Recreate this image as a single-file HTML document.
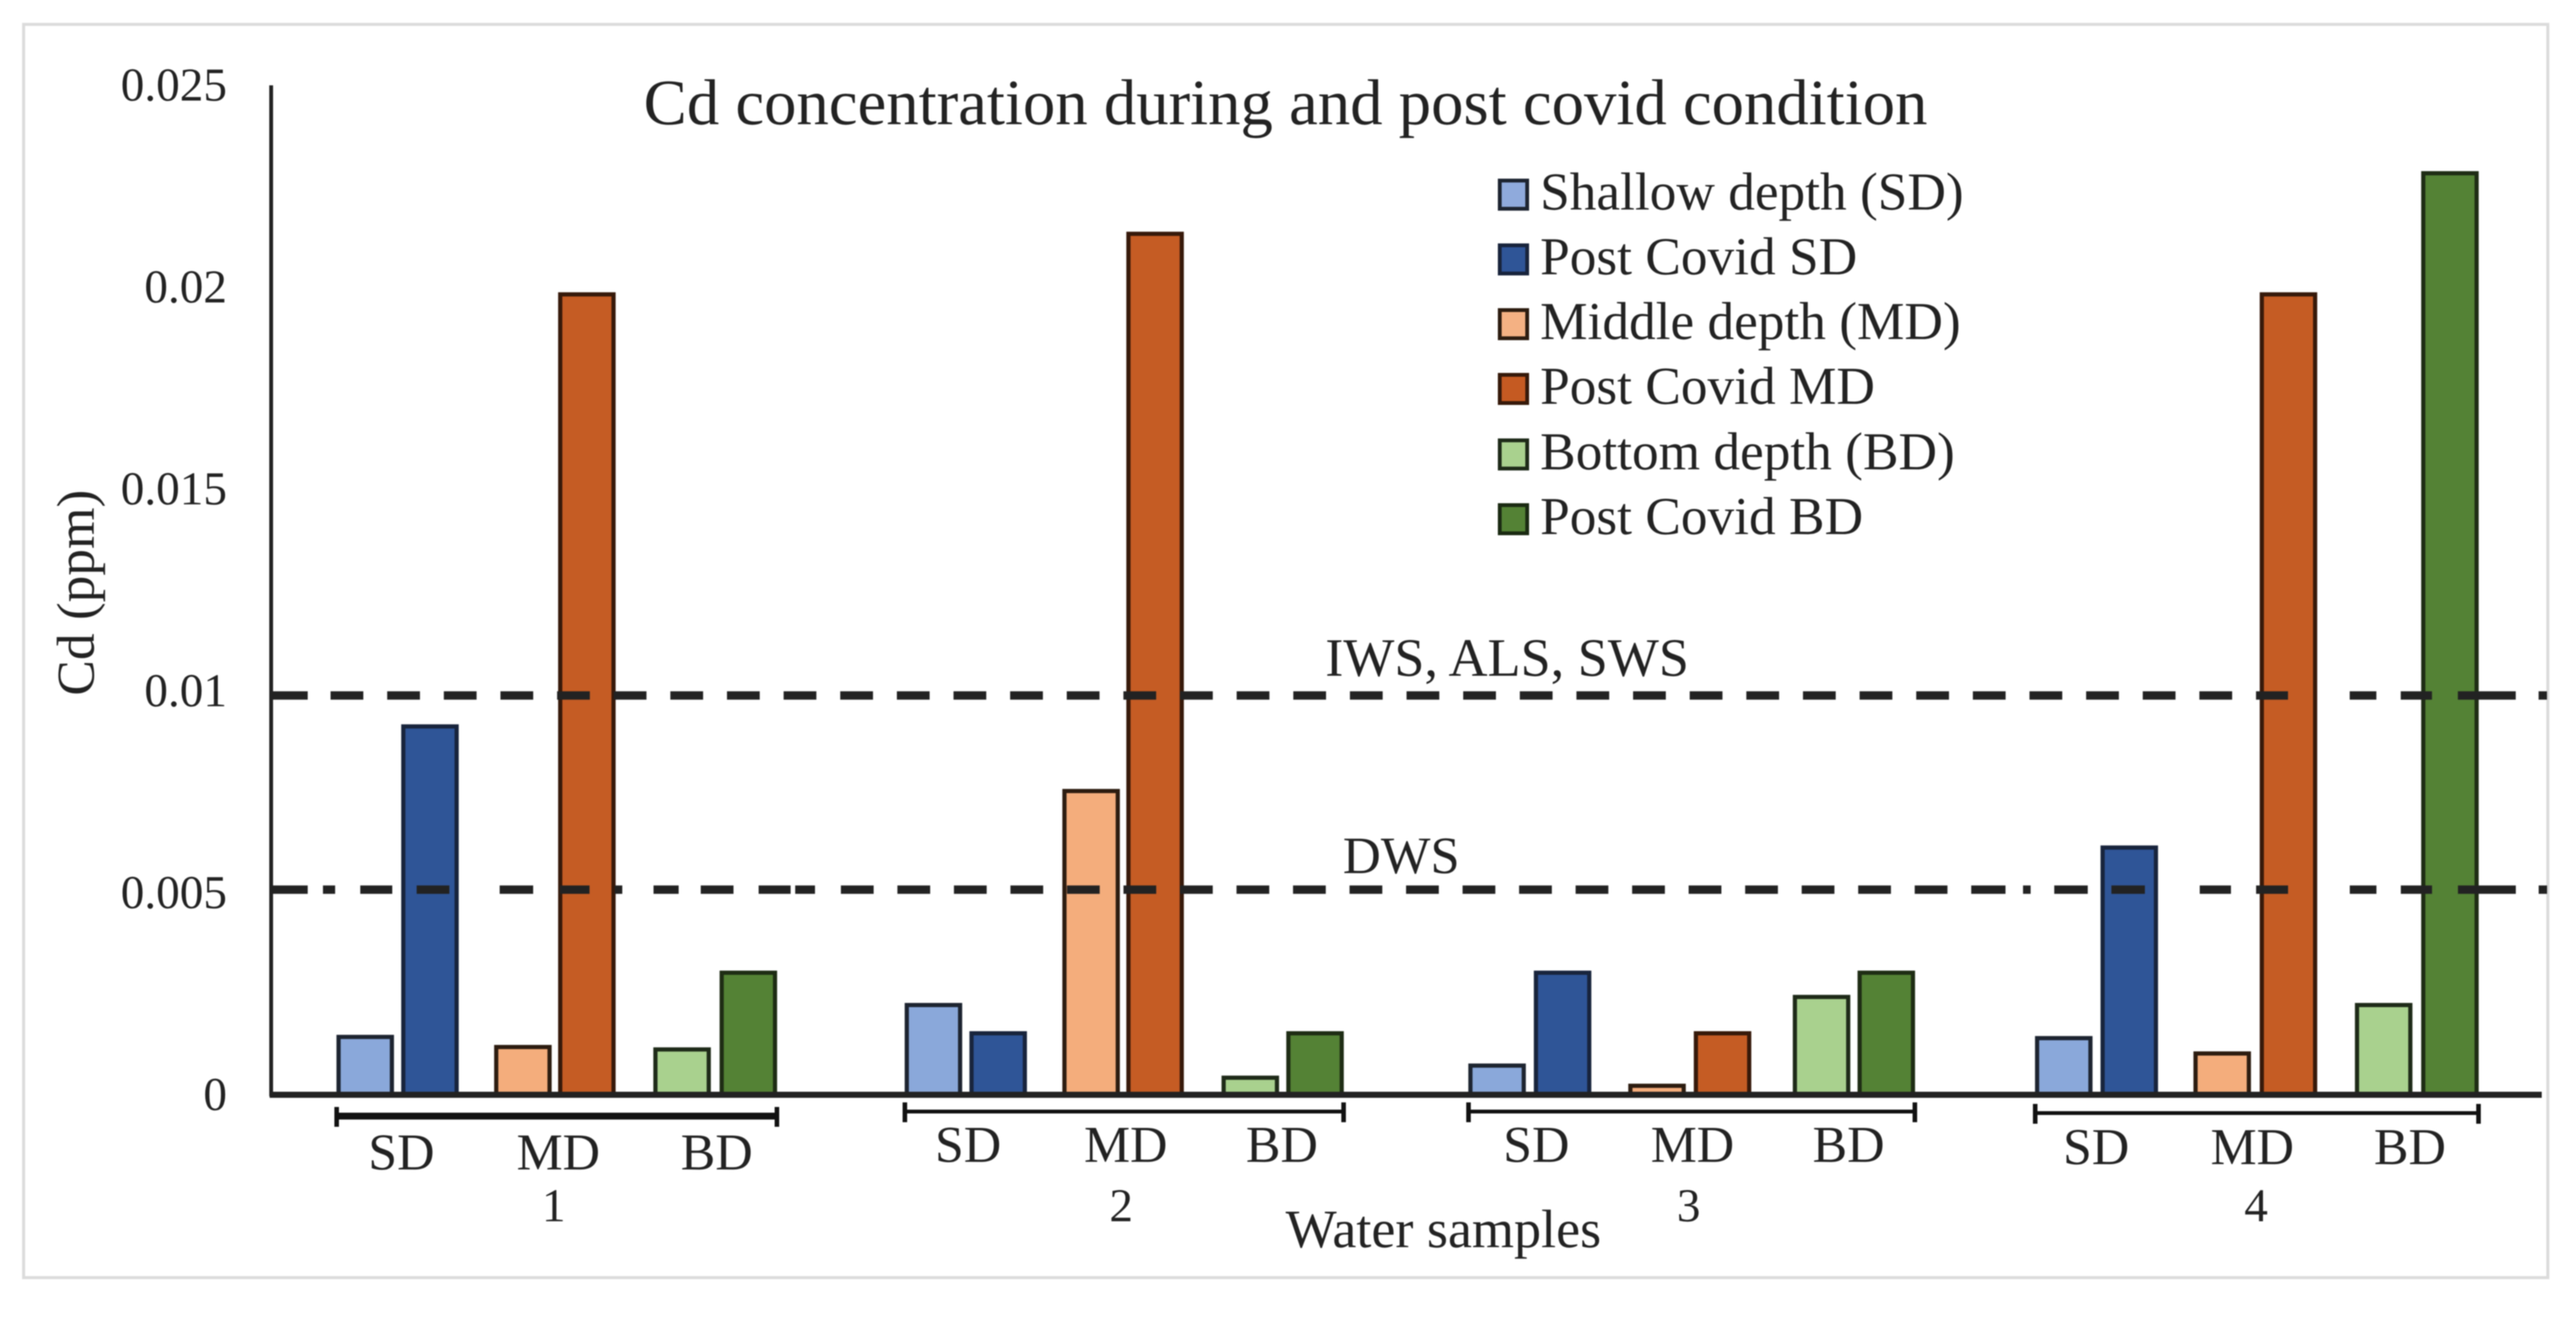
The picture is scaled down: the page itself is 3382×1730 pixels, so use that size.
<!DOCTYPE html>
<html lang="en">
<head>
<meta charset="utf-8">
<title>Cd concentration during and post covid condition</title>
<style>
  html, body { margin: 0; padding: 0; background: #ffffff; }
  body { width: 3382px; height: 1730px; overflow: hidden; }
  svg { display: block; }
  text { font-family: "Liberation Serif", serif; fill: #222222; text-rendering: geometricPrecision; }
</style>
</head>
<body>
<svg id="chart" xmlns="http://www.w3.org/2000/svg" width="3382" height="1730" viewBox="0 0 3382 1730">
  <rect x="0" y="0" width="3382" height="1730" fill="#ffffff"/>
  <g id="plot" style="filter: blur(0.9px)">
    <rect x="31" y="32" width="3314" height="1645" fill="#ffffff" stroke="#dcdcdc" stroke-width="4"/>
    <g id="bars"></g>
    <g id="thresholds"></g>
    <line x1="356" y1="112" x2="356" y2="1439" stroke="#222222" stroke-width="5"/>
    <line x1="354" y1="1437" x2="3337" y2="1437" stroke="#222222" stroke-width="8"/>
    <g id="brackets"></g>
    <g id="yticks"></g>
    <g id="xlabels"></g>
    <text x="845" y="163" font-size="85">Cd concentration during and post covid condition</text>
    <text transform="translate(123 778) rotate(-90)" text-anchor="middle" font-size="70">Cd (ppm)</text>
    <text x="1895" y="1637" text-anchor="middle" font-size="71">Water samples</text>
    <g>
      <g>
        <rect x="1969" y="237" width="36" height="37" fill="#8faadc" stroke="#1d2430" stroke-width="5"/>
        <text x="2022" y="275" font-size="70">Shallow depth (SD)</text>
      </g>
      <g>
        <rect x="1969" y="322" width="36" height="37" fill="#2f5597" stroke="#18243c" stroke-width="5"/>
        <text x="2022" y="360" font-size="70">Post Covid SD</text>
      </g>
      <g>
        <rect x="1969" y="407" width="36" height="37" fill="#f4b183" stroke="#2c1c10" stroke-width="5"/>
        <text x="2022" y="445" font-size="70">Middle depth (MD)</text>
      </g>
      <g>
        <rect x="1969" y="492" width="36" height="37" fill="#c55a22" stroke="#36190a" stroke-width="5"/>
        <text x="2022" y="530" font-size="70">Post Covid MD</text>
      </g>
      <g>
        <rect x="1969" y="578" width="36" height="37" fill="#a9d18e" stroke="#1e2a18" stroke-width="5"/>
        <text x="2022" y="616" font-size="70">Bottom depth (BD)</text>
      </g>
      <g>
        <rect x="1969" y="663" width="36" height="37" fill="#548235" stroke="#1a2a12" stroke-width="5"/>
        <text x="2022" y="701" font-size="70">Post Covid BD</text>
      </g>
    </g>
  </g>
</svg>
<script>
// ---- chart data ----
const sampleLabels = ["1", "2", "3", "4"];
const depthLabels = ["SD", "MD", "BD"];
const yTickValues = [0, 0.005, 0.01, 0.015, 0.02, 0.025];
const yTickLabels = ["0", "0.005", "0.01", "0.015", "0.02", "0.025"];
const shallowDepth = [0.00148, 0.00227, 0.00077, 0.00145];
const postCovidSD = [0.00917, 0.00157, 0.00307, 0.00617];
const middleDepth = [0.00123, 0.00757, 0.00027, 0.00107];
const postCovidMD = [0.01987, 0.02137, 0.00157, 0.01987];
const bottomDepth = [0.00117, 0.00047, 0.00247, 0.00227];
const postCovidBD = [0.00307, 0.00157, 0.00307, 0.02287];
const thresholdValues = [0.00989, 0.00508];
const thresholdLabels = ["IWS, ALS, SWS", "DWS"];

const seriesValues = [shallowDepth, postCovidSD, middleDepth, postCovidMD, bottomDepth, postCovidBD];

// ---- styling by series ----
const seriesKeys = ["shallow-sd", "post-covid-sd", "middle-md", "post-covid-md", "bottom-bd", "post-covid-bd"];
const seriesFill = ["#8aa8da", "#2f5597", "#f4ad7c", "#c55c24", "#a9d18e", "#548235"];
const seriesStroke = ["#1d2430", "#18243c", "#2c1c10", "#36190a", "#1e2a18", "#1e2c14"];

// ---- axis functions ----
const NS = "http://www.w3.org/2000/svg";
const Y_ZERO = 1437;
const Y_TOP = 112;
const Y_MAX = 0.025;
const BAR_WIDTH = 75;

function yScale(v) {
  return Y_ZERO - (v / Y_MAX) * (Y_ZERO - Y_TOP);
}
// Categorical x axis: measured band layout per sample / series slot.
function xBar(g, s) {
  const left = [442, 1188, 1928, 2672];
  const slots = [
    [0, 85, 207, 291, 416, 503],
    [0, 85, 207, 291, 416, 501],
    [0, 86, 210, 296, 426, 511],
    [0, 86, 208, 295, 420, 507]
  ];
  return left[g] + slots[g][s];
}
function xGroupCenter(g) {
  return 727 + g * 745;
}
function xDepthLabel(g, d) {
  const centers = [[527, 733, 941], [1271, 1478, 1683], [2017, 2222, 2427], [2752, 2957, 3164]];
  return centers[g][d];
}
function yDepthLabel(g) {
  return [1535, 1525, 1525, 1528][g];
}
function yBracket(g) {
  return [1465, 1459, 1459, 1461][g];
}

function dashRun(dash, gap, n) {
  const out = [];
  for (let i = 0; i < n; i++) { out.push(dash, gap); }
  return out;
}
const commonDashTail = [42, 81, 35, 32, 41, 34, 76, 30, 11, 50];
function dashPattern(i) {
  if (i === 0) {
    return [48, 30].concat(dashRun(43, 31.35, 34), commonDashTail).join(" ");
  }
  return [48, 20, 16, 33, 42, 32, 43, 66, 44, 35, 39, 33, 10, 41, 33, 29, 43, 33, 42, 6, 26, 34]
    .concat(dashRun(43, 31.2, 20), [45, 23, 10, 31, 44, 31, 44, 72, 41, 33], commonDashTail)
    .join(" ");
}

function make(tag, parent, attrs, text) {
  const el = document.createElementNS(NS, tag);
  for (const k in attrs) { el.setAttribute(k, attrs[k]); }
  if (text !== undefined) { el.textContent = text; }
  parent.appendChild(el);
  return el;
}

// ---- bars ----
const barsLayer = document.getElementById("bars");
seriesValues.forEach(function (values, s) {
  values.forEach(function (v, g) {
    const top = yScale(v);
    const bar = make("rect", barsLayer, {
      x: xBar(g, s) + 2.5,
      y: top + 2.5,
      width: BAR_WIDTH - 5,
      height: Math.max(Y_ZERO - top - 2.5, 0),
      fill: seriesFill[s],
      stroke: seriesStroke[s],
      "stroke-width": 5.5
    });
    
    
  });
});

// ---- threshold lines ----
const thresholdLayer = document.getElementById("thresholds");
thresholdValues.forEach(function (v, i) {
  const y = yScale(v);
  const line = make("line", thresholdLayer, {
    x1: 356,
    x2: 3344,
    y1: y,
    y2: y,
    stroke: "#222222",
    "stroke-width": 11,
    "stroke-dasharray": dashPattern(i)
  });
  
  
  const label = make("text", thresholdLayer, {
    x: i === 0 ? 1740 : 1763,
    y: i === 0 ? y - 26 : y - 22,
    "font-size": i === 0 ? 71 : 69
  }, thresholdLabels[i]);
  
  
});

// ---- y ticks ----
const yTickLayer = document.getElementById("yticks");
yTickValues.forEach(function (v, i) {
  const tick = make("text", yTickLayer, {
    x: 298,
    y: yScale(v) + 20,
    "text-anchor": "end",
    "font-size": 62
  }, yTickLabels[i]);
  
  
});

// ---- brackets + x labels ----
const bracketLayer = document.getElementById("brackets");
const xLabelLayer = document.getElementById("xlabels");
sampleLabels.forEach(function (sample, g) {
  const x1 = xBar(g, 0);
  const x2 = xBar(g, 5) + BAR_WIDTH;
  const yb = yBracket(g);
  const bracketLine = make("line", bracketLayer, {
    x1: x1 - 1, x2: x2 + 1, y1: yb, y2: yb,
    stroke: "#111111",
    "stroke-width": g === 0 ? 9 : 5
  });
  
  
  const capLeft = make("line", bracketLayer, {
    x1: x1, x2: x1, y1: yb - 12, y2: yb + 14,
    stroke: "#111111",
    "stroke-width": 6
  });
  
  
  const capRight = make("line", bracketLayer, {
    x1: x2, x2: x2, y1: yb - 12, y2: yb + 14,
    stroke: "#111111",
    "stroke-width": 6
  });
  
  

  depthLabels.forEach(function (depth, d) {
    const depthText = make("text", xLabelLayer, {
      x: xDepthLabel(g, d),
      y: yDepthLabel(g),
      "text-anchor": "middle",
      "font-size": 68
    }, depth);
    
    
  });

  const sampleText = make("text", xLabelLayer, {
    x: xGroupCenter(g),
    y: 1603,
    "text-anchor": "middle",
    "font-size": 62
  }, sample);
  
  
});
</script>
</body>
</html>
